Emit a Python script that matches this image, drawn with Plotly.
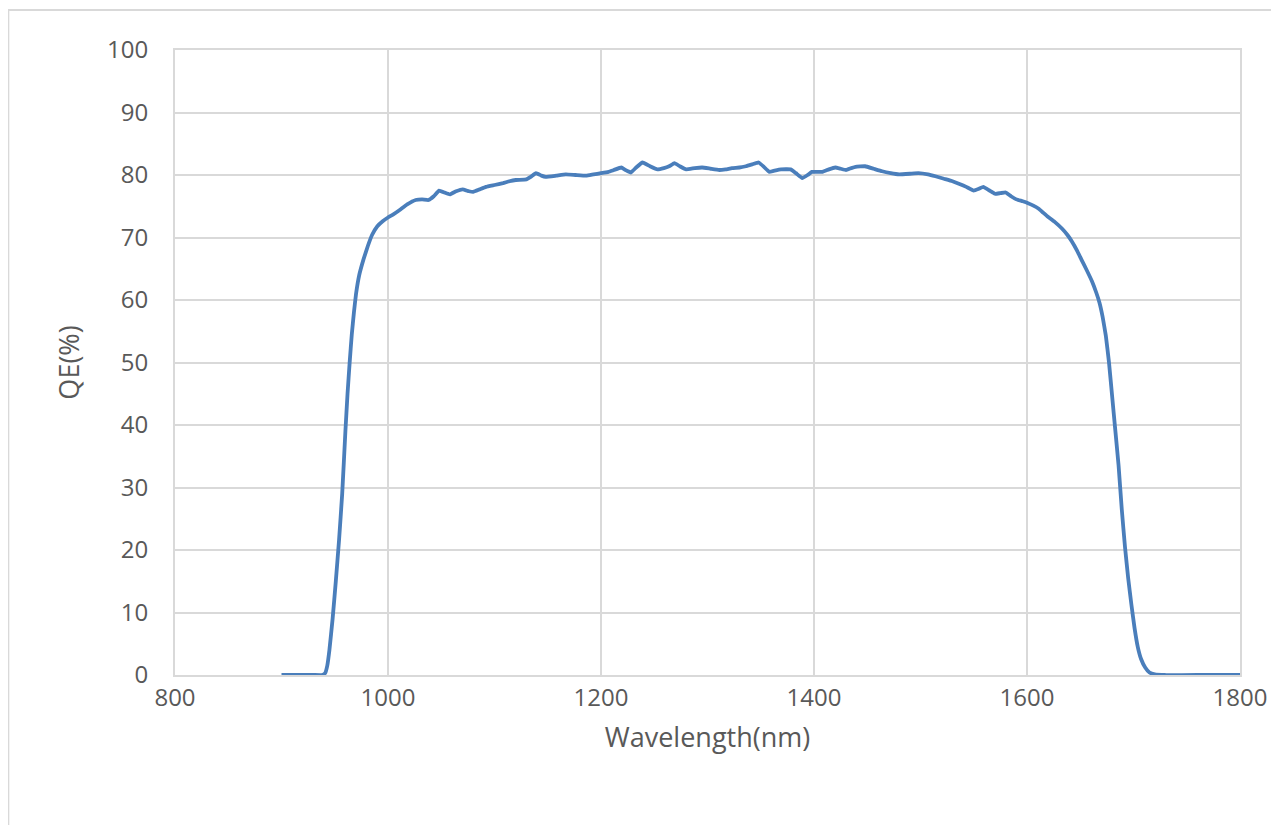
import plotly.graph_objects as go

wavelength = [900, 910, 920, 930, 938, 941, 943, 945, 948, 951, 954, 957, 960, 962, 964, 966, 968, 970, 973, 977,
              981, 985, 990, 995, 1000, 1005, 1011, 1018, 1026, 1032, 1038, 1043, 1048, 1053, 1058, 1064, 1070, 1076,
              1080, 1086, 1092, 1100, 1108, 1114, 1120, 1130, 1134, 1139, 1144, 1148, 1158, 1167, 1176, 1186, 1193,
              1200, 1207, 1212, 1219, 1223, 1228, 1233, 1239, 1246, 1253, 1259, 1264, 1269, 1274, 1280, 1288, 1295,
              1303, 1311, 1317, 1323, 1330, 1336, 1342, 1348, 1353, 1358, 1363, 1369, 1378, 1383, 1389, 1394, 1398,
              1408, 1414, 1420, 1425, 1430, 1435, 1439, 1448, 1456, 1464, 1472, 1480, 1490, 1498, 1507, 1514, 1522,
              1530, 1536, 1543, 1550, 1555, 1559, 1565, 1570, 1575, 1580, 1585, 1590, 1596, 1601, 1606, 1611, 1615,
              1619, 1626, 1633, 1638, 1642, 1647, 1651, 1656, 1661, 1665, 1668, 1671, 1674, 1677, 1680, 1683, 1686,
              1689, 1692, 1695, 1698, 1701, 1704, 1707, 1711, 1715, 1720, 1730, 1760, 1800]
qe = [0, 0, 0, 0, 0, 0.3, 1.5, 4, 9, 15, 21.5, 29, 39, 45, 50, 54.5, 58, 61, 64, 66.5,
      68.6, 70.4, 71.8, 72.6, 73.2, 73.7, 74.4, 75.3, 76.0, 76.1, 76.0, 76.6, 77.5, 77.2, 76.9, 77.4, 77.7, 77.4,
      77.3, 77.7, 78.1, 78.4, 78.7, 79.0, 79.2, 79.3, 79.7, 80.3, 79.9, 79.7, 79.9, 80.1, 80.0, 79.9, 80.1,
      80.3, 80.5, 80.8, 81.2, 80.8, 80.4, 81.2, 82.0, 81.4, 80.9, 81.1, 81.4, 81.9, 81.4, 80.9, 81.1, 81.2,
      81.0, 80.8, 80.9, 81.1, 81.2, 81.4, 81.7, 82.0, 81.3, 80.5, 80.7, 80.9, 80.9, 80.3, 79.5, 80.0, 80.5,
      80.5, 80.9, 81.2, 81.0, 80.8, 81.1, 81.3, 81.4, 81.0, 80.6, 80.3, 80.1, 80.2, 80.3, 80.1, 79.8, 79.4,
      79.0, 78.6, 78.1, 77.5, 77.8, 78.1, 77.5, 77.0, 77.1, 77.2, 76.6, 76.1, 75.8, 75.5, 75.1, 74.6, 74.0,
      73.4, 72.5, 71.4, 70.4, 69.4, 67.9, 66.5, 64.8, 63.0, 61.2, 59.6, 57.3, 54.3, 50, 44.5, 39, 33.5,
      26.5, 20.5, 15.5, 11.3, 7.5, 4.5, 2.6, 1.2, 0.4, 0.1, 0, 0, 0]

x_ticks = [800, 1000, 1200, 1400, 1600, 1800]
y_ticks = [0, 10, 20, 30, 40, 50, 60, 70, 80, 90, 100]

grid = "#d9d9d9"
txt = "#595959"
font_family = "Open Sans"

fig = go.Figure()
fig.add_trace(go.Scatter(
    x=wavelength, y=qe, mode="lines",
    line=dict(color="#4a7ebb", width=3.8, shape="spline", smoothing=0.3),
    showlegend=False, hoverinfo="x+y",
))

fig.update_layout(
    width=1271, height=817,
    margin=dict(l=167, r=37, t=42, b=150),
    paper_bgcolor="white", plot_bgcolor="white",
    font=dict(family=font_family, color=txt, size=24),
    xaxis=dict(
        range=[800, 1800], tickvals=x_ticks, ticktext=[str(v) for v in x_ticks],
        showgrid=True, gridcolor=grid, gridwidth=2,
        showline=True, linecolor=grid, linewidth=2, mirror=True,
        zeroline=False, ticks="", ticklabelstandoff=0,
        title=dict(text="Wavelength(nm)", font=dict(size=27, color=txt), standoff=16),
    ),
    yaxis=dict(
        range=[0, 100], tickvals=y_ticks, ticktext=[str(v) for v in y_ticks],
        showgrid=True, gridcolor=grid, gridwidth=2,
        showline=True, linecolor=grid, linewidth=2, mirror=True,
        zeroline=False, ticks="", ticklabelstandoff=20,
        title=dict(text="QE(%)", font=dict(size=27, color=txt), standoff=20),
    ),
    shapes=[
        dict(type="rect", xref="paper", yref="paper",
             x0=(8 - 175) / 1067, x1=(1300 - 175) / 1067,
             y0=(675 - 850) / 625, y1=(675 - 10) / 625,
             line=dict(color="#d9d9d9", width=2), fillcolor="rgba(0,0,0,0)", layer="below"),
    ],
)

fig.write_html("out.html")
